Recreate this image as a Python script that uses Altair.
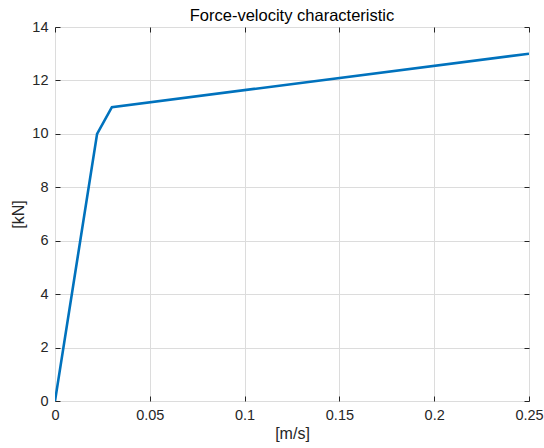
import altair as alt
import pandas as pd

velocity = [0.0, 0.0222, 0.030, 0.25]
force = [0.0, 10.0, 11.0, 13.0]
x_ticks = [0, 0.05, 0.1, 0.15, 0.2, 0.25]
y_ticks = [0, 2, 4, 6, 8, 10, 12, 14]

df = pd.DataFrame({"v": velocity, "f": force})

FONT = "Liberation Sans"
DARK = "#262626"
TICK = 5

xscale = alt.Scale(domain=[0, 0.25], nice=False, zero=False)
yscale = alt.Scale(domain=[0, 14], nice=False, zero=False)

main = alt.Chart(df).mark_line(color="#0072BD", strokeWidth=2.6, clip=True).encode(
    x=alt.X("v:Q", scale=xscale, title="[m/s]",
            axis=alt.Axis(values=x_ticks, orient="bottom", offset=-TICK, tickSize=TICK,
                          domain=False, tickColor=DARK, labelColor=DARK, titleColor=DARK,
                          labelFont=FONT, titleFont=FONT, labelFontSize=14.5, titleFontSize=16,
                          titleFontWeight="normal", labelPadding=7, titlePadding=4,
                          grid=True, gridColor="#dcdcdc", gridWidth=1, format="~g",
                          labelFlush=False, labelOverlap=False)),
    y=alt.Y("f:Q", scale=yscale, title="[kN]",
            axis=alt.Axis(values=y_ticks, orient="left", offset=-TICK, tickSize=TICK,
                          domain=False, tickColor=DARK, labelColor=DARK, titleColor=DARK,
                          labelFont=FONT, titleFont=FONT, labelFontSize=14.5, titleFontSize=16,
                          titleFontWeight="normal", labelPadding=7, titlePadding=5,
                          grid=True, gridColor="#dcdcdc", gridWidth=1, format="~g",
                          labelFlush=False, labelOverlap=False)),
)

mirror = alt.Chart(df).mark_line(opacity=0).encode(
    x=alt.X("v:Q", scale=xscale, title=None,
            axis=alt.Axis(values=x_ticks, orient="top", offset=-TICK, tickSize=TICK,
                          domain=False, labels=False, grid=False, tickColor=DARK)),
    y=alt.Y("f:Q", scale=yscale, title=None,
            axis=alt.Axis(values=y_ticks, orient="right", offset=-TICK, tickSize=TICK,
                          domain=False, labels=False, grid=False, tickColor=DARK)),
)

chart = alt.layer(main, mirror).resolve_axis(x="independent", y="independent").properties(
    width=474, height=374,
    title=alt.TitleParams("Force-velocity characteristic", font=FONT, fontSize=16.5,
                          fontWeight="normal", color="#000000", offset=-5),
    padding={"left": 55, "top": 27, "right": 15, "bottom": 47},
    autosize="none",
).configure_view(stroke=DARK, strokeWidth=1).configure(background="white")

chart.save("out.html", embed_options={"renderer": "svg", "actions": False})
